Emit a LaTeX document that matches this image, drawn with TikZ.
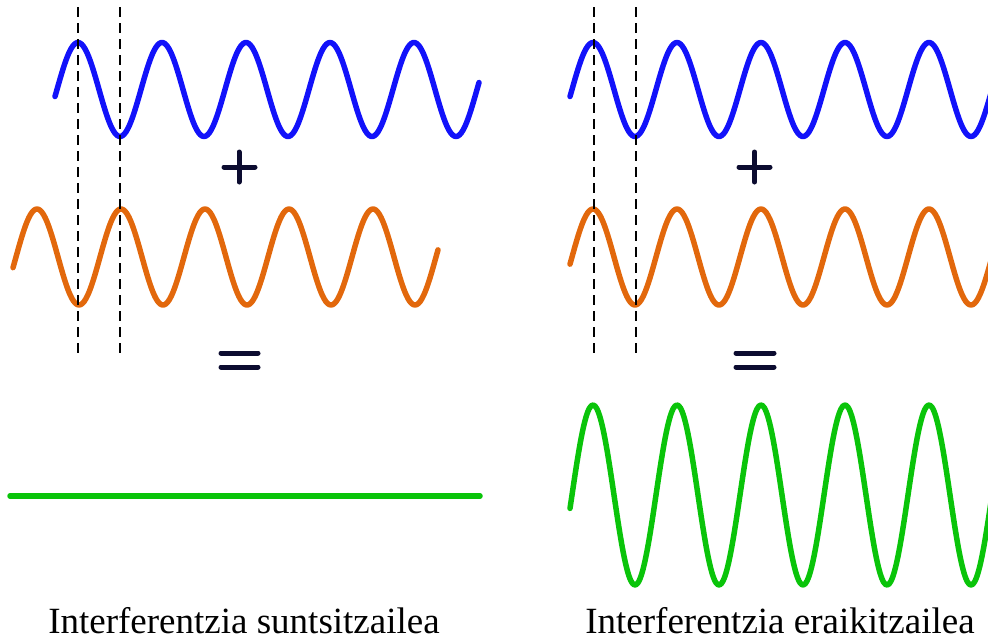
\documentclass[tikz,border=0pt]{standalone}
\usepackage{fontspec}
\setmainfont{Liberation Serif}
\usepackage{tikz}

\definecolor{waveblue}{RGB}{18,18,250}
\definecolor{waveorange}{RGB}{226,104,12}
\definecolor{wavegreen}{RGB}{10,196,10}
\definecolor{signnavy}{RGB}{12,12,48}

\begin{document}
\begin{tikzpicture}[
    x=1pt, y=-1pt,
    wave/.style={line width=5.5pt, line cap=round, line join=round, smooth, samples=240},
    bluewave/.style={wave, draw=waveblue},
    orangewave/.style={wave, draw=waveorange},
    greenwave/.style={wave, draw=wavegreen},
    guide/.style={draw=black, line width=1.6pt, dash pattern=on 10pt off 6pt},
    sign/.style={draw=signnavy, line width=5pt, line cap=round},
    caption/.style={anchor=base, inner sep=0pt, font=\fontsize{37}{40}\selectfont}
]
\clip (0,0) rectangle (988,638);

% destructive (left)
\draw[bluewave] plot[domain=55:479] (\x, {89.5-47*sin(360*((\x-57)/84))});
\draw[orangewave] plot[domain=13:438] (\x, {257-48*sin(360*((\x-16)/84))});
\draw[guide] (78,7) -- (78,358);
\draw[guide] (120,7) -- (120,358);
\draw[sign] (224,167) -- (255,167);
\draw[sign] (239,152) -- (239,182);
\draw[sign] (221,353) -- (258,353);
\draw[sign] (221,367) -- (258,367);
\draw[greenwave] (10,496) -- (480,496);
\node[caption] (destr) at (244,633) {Interferentzia suntsitzailea};

% constructive (right)
\draw[bluewave] plot[domain=570:996] (\x, {89.5-47*sin(360*((\x-572)/84))});
\draw[orangewave] plot[domain=570:996] (\x, {257-48*sin(360*((\x-572)/84))});
\draw[guide] (594,7) -- (594,358);
\draw[guide] (636,7) -- (636,358);
\draw[sign] (739,167) -- (770,167);
\draw[sign] (754.5,152) -- (754.5,182);
\draw[sign] (736,353) -- (774,353);
\draw[sign] (736,367) -- (774,367);
\draw[greenwave] plot[domain=570:996] (\x, {495-90*sin(360*((\x-572)/84))});
\node[caption] (constr) at (780,633) {Interferentzia eraikitzailea};
\end{tikzpicture}
\end{document}
